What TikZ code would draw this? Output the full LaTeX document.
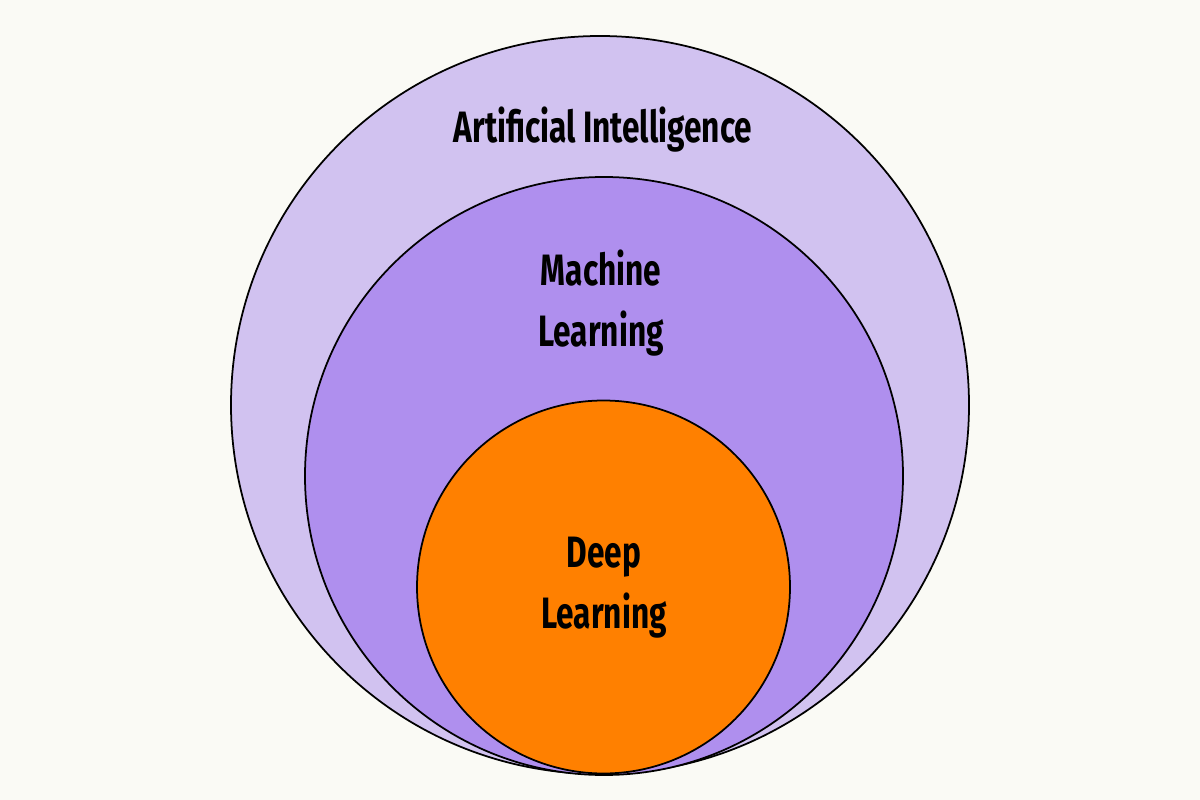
\documentclass[tikz,border=0pt]{standalone}
\usepackage{fontspec}
\setmainfont{Fira Sans}
\definecolor{bg}{HTML}{FAFAF5}
\definecolor{ai}{HTML}{D1C2F0}
\definecolor{ml}{HTML}{AF8FEE}
\definecolor{dl}{HTML}{FF8000}
\begin{document}
\begin{tikzpicture}[x=0.02cm,y=-0.02cm,
  ring/.style={draw=black,line width=1pt},
  lbl/.style={font=\fontsize{25}{31}\selectfont\bfseries,align=center,text=black}]
\fill[bg] (0,0) rectangle (1200,800);
\useasboundingbox (0,0) rectangle (1200,800);
\fill[ai,ring] (600,405) circle (369);
\fill[ml,ring] (604,476) circle (299);
\fill[dl,ring] (603.5,587) circle (186.5);
\node[lbl] (t1) at (603,130) {\scalebox{0.72}[1]{Artificial Intelligence}};
\node[lbl] (t2) at (601,305) {\scalebox{0.72}[1]{\begin{tabular}{c}Machine\\[4pt]Learning\end{tabular}}};
\node[lbl] (t3) at (604,587) {\scalebox{0.72}[1]{\begin{tabular}{c}Deep\\[4pt]Learning\end{tabular}}};
\end{tikzpicture}
\end{document}
